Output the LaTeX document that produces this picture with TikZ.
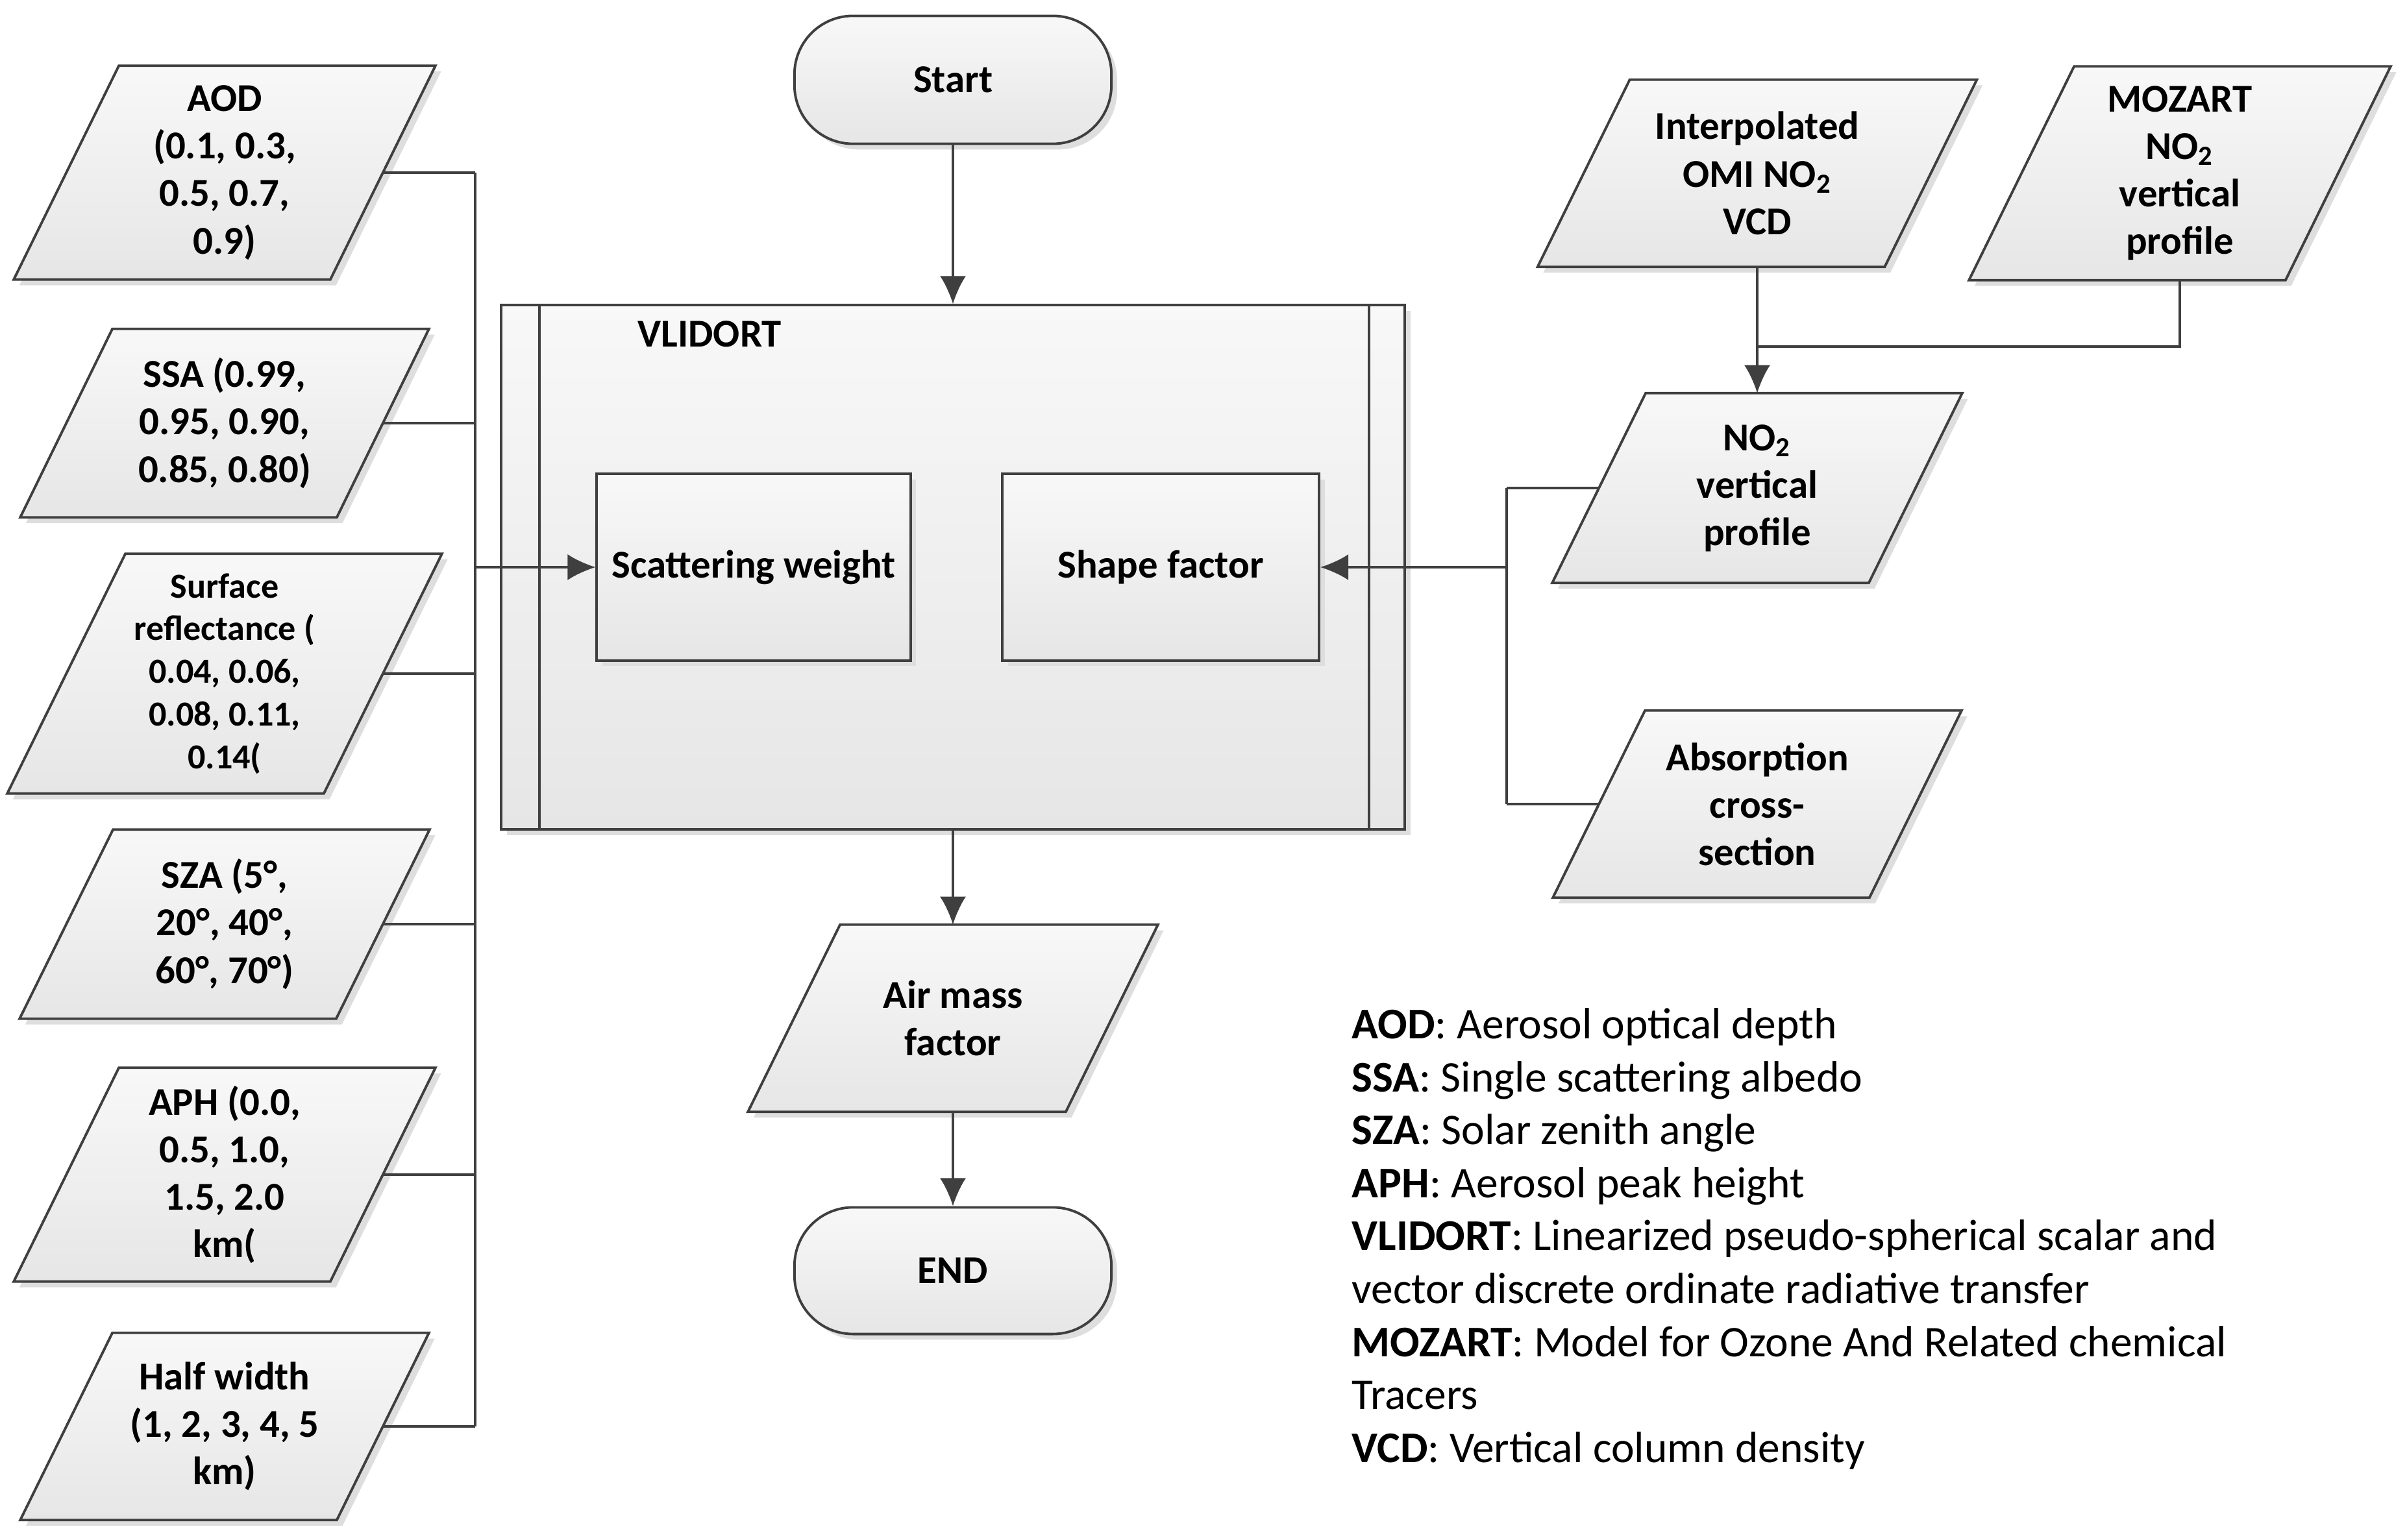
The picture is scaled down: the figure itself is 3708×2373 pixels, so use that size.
\documentclass[tikz,border=0pt]{standalone}
\usepackage{fontspec}
\setmainfont{Carlito}
\usepackage{tikz}
\usetikzlibrary{positioning,calc,arrows.meta,shadows,backgrounds}
\definecolor{linec}{HTML}{3F3F3F}
\definecolor{fillt}{HTML}{F8F8F8}
\definecolor{fillb}{HTML}{E6E6E6}
\definecolor{shadowc}{HTML}{DEDEDE}

\begin{document}
\begin{tikzpicture}[
x=0.01cm, y=-0.01cm,
iobox/.style={
  draw=linec,
  line width=1.1pt,
  top color=fillt,
  bottom color=fillb,
  drop shadow={shadow xshift=2.5pt,shadow yshift=-2.5pt,fill=shadowc,opacity=1}
},
iotext/.style={
  inner sep=0pt,
  minimum width=4.86cm,
  align=center,
  font=\bfseries\fontsize{17.3}{20.8}\selectfont
},
proc/.style={
  draw=linec,
  line width=1.1pt,
  top color=fillt,
  bottom color=fillb,
  inner sep=0pt,
  align=center,
  font=\bfseries\fontsize{17.3}{20.8}\selectfont,
  drop shadow={shadow xshift=2.5pt,shadow yshift=-2.5pt,fill=shadowc,opacity=1}
},
term/.style={
  proc,
  rounded corners=0.9cm,
  minimum width=4.88cm
},
conn/.style={draw=linec, line width=0.9pt},
arr/.style={conn, -{Latex[length=4.3mm,width=4mm]}}
]
\useasboundingbox (0,0) rectangle (3708,2373);

% inputs on the left
\node[iotext,minimum height=3.28cm] (aod) at (346,266)
  {AOD\\(0.1, 0.3,\\0.5, 0.7,\\0.9)};
\node[iotext,minimum height=2.89cm] (ssa) at (346,652)
  {SSA (0.99,\\0.95, 0.90,\\0.85, 0.80)};
\node[iotext,minimum height=3.68cm,font=\bfseries\fontsize{15.4}{18.7}\selectfont] (surf) at (346,1038)
  {Surface\\reflectance (\\0.04, 0.06,\\0.08, 0.11,\\0.14(};
\node[iotext,minimum height=2.90cm] (sza) at (346,1424)
  {SZA (5°,\\20°, 40°,\\60°, 70°)};
\node[iotext,minimum height=3.28cm] (aph) at (346,1810)
  {APH (0.0,\\0.5, 1.0,\\1.5, 2.0\\km(};
\node[iotext,minimum height=2.87cm] (hw) at (346,2198)
  {Half width\\(1, 2, 3, 4, 5\\km)};

% main column
\node[term,minimum height=1.97cm] (start) at (1468,123) {Start};
\node[proc,minimum width=13.91cm,minimum height=8.07cm] (vlidort) at (1468,874) {};
\node[anchor=west,inner sep=0pt,font=\bfseries\fontsize{17.3}{20.8}\selectfont] (vlabel) at (982,515) {VLIDORT};
\node[proc,minimum width=4.83cm,minimum height=2.87cm] (scat) at (1161,874) {Scattering weight};
\node[proc,minimum width=4.88cm,minimum height=2.87cm] (shape) at (1788,874) {Shape factor};
\node[iotext,minimum width=4.88cm,minimum height=2.87cm] (amf) at (1468,1569)
  {Air mass\\factor};
\node[term,minimum height=1.95cm] (end) at (1468,1958) {END};

% inputs on the right
\node[iotext,minimum width=5.33cm,minimum height=2.87cm] (omi) at (2707,267)
  {Interpolated\\OMI NO\textsubscript{2}\\VCD};
\node[iotext,minimum height=3.28cm] (moz) at (3358,267)
  {MOZART\\NO\textsubscript{2}\\vertical\\profile};
\node[iotext,minimum height=2.91cm] (no2) at (2707,752)
  {NO\textsubscript{2}\\vertical\\profile};
\node[iotext,minimum height=2.87cm] (abs) at (2707,1239)
  {Absorption\\cross-\\section};

% legend
\node[anchor=north west,inner sep=0pt,align=left,font=\fontsize{19.2}{23.2}\selectfont] (legend) at (2082,1553)
  {\textbf{AOD}: Aerosol optical depth\\
   \textbf{SSA}: Single scattering albedo\\
   \textbf{SZA}: Solar zenith angle\\
   \textbf{APH}: Aerosol peak height\\
   \textbf{VLIDORT}: Linearized pseudo-spherical scalar and\\
   vector discrete ordinate radiative transfer\\
   \textbf{MOZART}: Model for Ozone And Related chemical\\
   Tracers\\
   \textbf{VCD}: Vertical column density};

% parallelograms behind the texts
\begin{scope}[on background layer]
\foreach \nm/\o in {aod/81,ssa/71,surf/91,sza/72,aph/81,hw/71,omi/71,moz/81,no2/72,abs/71,amf/71}
  \draw[iobox] ($(\nm.north west)+(\o,0)$) -- ($(\nm.north east)+(\o,0)$)
    -- ($(\nm.south east)+(-\o,0)$) -- ($(\nm.south west)+(-\o,0)$) -- cycle;
\end{scope}

% double sides of the predefined process
\draw[conn,line width=1.1pt] ($(vlidort.north west)+(61,0)$) -- ($(vlidort.south west)+(61,0)$);
\draw[conn,line width=1.1pt] ($(vlidort.north east)+(-57,0)$) -- ($(vlidort.south east)+(-57,0)$);

\coordinate (lbus) at (732,874);
\coordinate (rbus) at (2321,874);
\coordinate (mjoin) at (2707,534);

\foreach \nm in {aod,ssa,surf,sza,aph,hw}
  \draw[conn] (\nm.east) -- (\nm.east -| lbus);
\draw[conn] (aod.east -| lbus) -- (hw.east -| lbus);
\draw[arr] (lbus) -- (scat);

\draw[arr] (start) -- (vlidort);
\draw[arr] (vlidort) -- (amf);
\draw[arr] (amf) -- (end);

\draw[arr] (omi) -- (no2);
\draw[conn] (moz.south) |- (mjoin);
\foreach \nm in {no2,abs}
  \draw[conn] (\nm.west) -- (\nm.west -| rbus);
\draw[conn] (no2.west -| rbus) -- (abs.west -| rbus);
\draw[arr] (rbus) -- (shape);
\end{tikzpicture}
\end{document}
